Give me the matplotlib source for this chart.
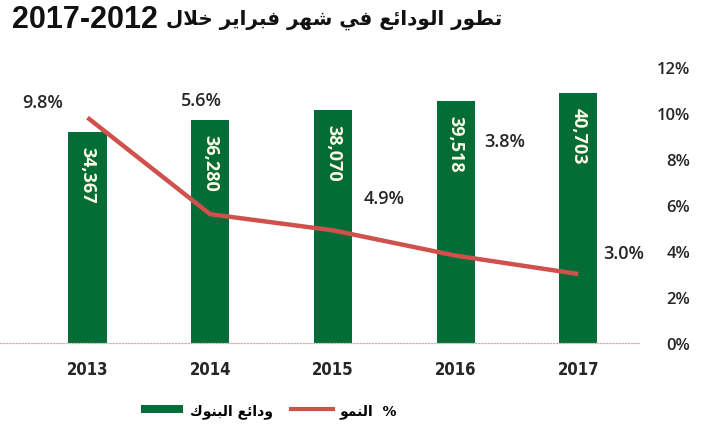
import matplotlib
matplotlib.use("Agg")
from matplotlib import pyplot as plt
from matplotlib.patches import Patch
from matplotlib.lines import Line2D

# DATA ##########################################
years = ["2013", "2014", "2015", "2016", "2017"]
deposits = [34367, 36280, 38070, 39518, 40703]
growth = [9.8, 5.6, 4.9, 3.8, 3.0]
growth_ticks = [0, 2, 4, 6, 8, 10, 12]

title_ar = "تطور الودائع في شهر فبراير خلال"
title_years = "2017-2012"
legend_bars = "ودائع البنوك"
legend_line = "%  النمو"

GREEN = "#036c37"
RED = "#d0514c"
DARK = "#262626"


# ARABIC SHAPING ################################
# (isolated, final, initial, medial); right-joining letters only have two forms
FORMS = {
    "ا": ("\uFE8D", "\uFE8E"), "د": ("\uFEA9", "\uFEAA"), "ر": ("\uFEAD", "\uFEAE"),
    "و": ("\uFEED", "\uFEEE"),
    "ب": ("\uFE8F", "\uFE90", "\uFE91", "\uFE92"), "ت": ("\uFE95", "\uFE96", "\uFE97", "\uFE98"),
    "خ": ("\uFEA5", "\uFEA6", "\uFEA7", "\uFEA8"), "ش": ("\uFEB5", "\uFEB6", "\uFEB7", "\uFEB8"),
    "ط": ("\uFEC1", "\uFEC2", "\uFEC3", "\uFEC4"), "ع": ("\uFEC9", "\uFECA", "\uFECB", "\uFECC"),
    "ف": ("\uFED1", "\uFED2", "\uFED3", "\uFED4"), "ك": ("\uFED9", "\uFEDA", "\uFEDB", "\uFEDC"),
    "ل": ("\uFEDD", "\uFEDE", "\uFEDF", "\uFEE0"), "م": ("\uFEE1", "\uFEE2", "\uFEE3", "\uFEE4"),
    "ن": ("\uFEE5", "\uFEE6", "\uFEE7", "\uFEE8"), "ه": ("\uFEE9", "\uFEEA", "\uFEEB", "\uFEEC"),
    "ي": ("\uFEF1", "\uFEF2", "\uFEF3", "\uFEF4"), "ئ": ("\uFE89", "\uFE8A", "\uFE8B", "\uFE8C"),
}
LAM_ALEF = ("\uFEFB", "\uFEFC")


def shape(text):
    # merge lam + alef first
    chars = []
    i = 0
    while i < len(text):
        if text[i] == "ل" and i + 1 < len(text) and text[i + 1] == "ا":
            chars.append("LA")
            i += 2
        else:
            chars.append(text[i])
            i += 1

    def forms(c):
        return LAM_ALEF if c == "LA" else FORMS.get(c)

    out = []
    for i, c in enumerate(chars):
        f = forms(c)
        if f is None:
            out.append(c)
            continue
        prev = forms(chars[i - 1]) if i > 0 else None
        nxt = forms(chars[i + 1]) if i + 1 < len(chars) else None
        join_prev = prev is not None and len(prev) == 4
        join_next = nxt is not None and len(f) == 4
        if join_prev and join_next:
            out.append(f[3])
        elif join_prev:
            out.append(f[1])
        elif join_next:
            out.append(f[2])
        else:
            out.append(f[0])
    return "".join(reversed(out))


# PLOT ##########################################
fig = plt.figure(figsize=(7.03, 4.31), dpi=100)
ax = fig.add_axes([0.0, 0.2018, 0.9104, 0.6404])
ax2 = ax.twinx()

x = list(range(len(years)))
bars = ax.bar(x, deposits, width=0.31, color=GREEN, zorder=2)
ax.set_ylim(0, 45000)
ax.set_xlim(-0.713, 4.503)
ax.set_yticks([])
ax.set_xticks(x)
ax.set_xticklabels(years, fontsize=12, fontweight="bold", color=DARK,
                   family="DejaVu Sans", fontstretch="condensed")
ax.tick_params(axis="x", length=0, pad=12)

for s in ["top", "left", "right"]:
    ax.spines[s].set_visible(False)
    ax2.spines[s].set_visible(False)
ax2.spines["bottom"].set_visible(False)
ax.spines["bottom"].set_color("#e3a9a6")
ax.spines["bottom"].set_linestyle((0, (1, 1.5)))
ax.spines["bottom"].set_linewidth(0.9)

for xi, v in zip(x, deposits):
    ax.annotate(f"{v:,}", (xi, v), xytext=(0, -14), textcoords="offset pixels",
                rotation=-90, ha="center", va="top", color="#fffbe6",
                fontsize=13, fontweight="bold", family="Open Sans", zorder=3)

ax2.plot(x, growth, color=RED, lw=3.2, solid_capstyle="butt", zorder=4)
ax2.set_ylim(0, 12)
ax2.set_yticks(growth_ticks)
ax2.set_yticklabels([f"{t}%" for t in growth_ticks], fontsize=12, fontweight="semibold",
                    color=DARK, family="Open Sans", ha="right")
ax2.tick_params(axis="y", length=0, pad=36)

offsets = [(-45, 16), (-9, 114), (51, 32), (49, 115), (45, 21)]
for xi, g, off in zip(x, growth, offsets):
    ax2.annotate(f"{g:.1f}%", (xi, g), xytext=off, textcoords="offset pixels",
                 ha="center", va="center", color=DARK, fontsize=13,
                 fontweight="semibold", family="Open Sans")

# title: digits on the left, Arabic words fitted to the reference width
W, H = fig.get_size_inches() * fig.dpi
fig.text(12 / W, 1 - 20 / H, title_years, fontsize=22, fontweight="bold",
         color="#111111", family="Liberation Sans", ha="left", va="center")
t_ar = fig.text(502 / W, 1 - 20 / H, shape(title_ar), fontsize=17, fontweight="bold",
                color="#111111", family="DejaVu Sans", ha="right", va="center")
fig.canvas.draw()
w = t_ar.get_window_extent().width
t_ar.set_fontsize(17 * 334 / w)

handles = [Patch(facecolor=GREEN, edgecolor="none"), Line2D([0], [0], color=RED, lw=3)]
fig.legend(handles, [shape(legend_bars), shape(legend_line)], ncol=2, frameon=False,
           loc="center", bbox_to_anchor=(0.383, 0.046), handlelength=3.0, handleheight=0.55,
           columnspacing=1.3, handletextpad=0.5,
           prop={"family": "DejaVu Sans", "weight": "bold", "size": 10})

plt.savefig("out.png", dpi=100)
